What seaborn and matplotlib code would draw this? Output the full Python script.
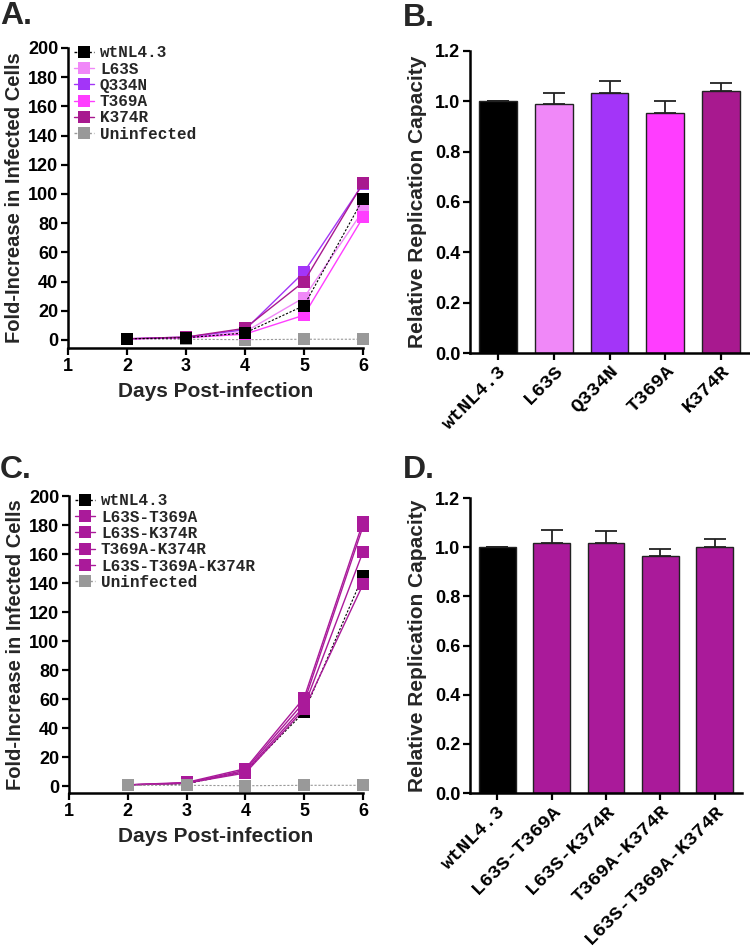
import matplotlib
matplotlib.use("Agg")
import matplotlib.pyplot as plt
import seaborn as sns
import numpy as np
import pandas as pd
from matplotlib.lines import Line2D

sns.set_theme(style="ticks")
plt.rcParams['font.family'] = ['Liberation Sans', 'DejaVu Sans']
plt.rcParams['font.weight'] = 'bold'

# ---------------- data ----------------
days = [2, 3, 4, 5, 6]

a_names = ["wtNL4.3", "L63S", "Q334N", "T369A", "K374R", "Uninfected"]
a_wt = [0.8, 1.5, 4.8, 23.5, 96.5]
a_l63s = [0.8, 1.5, 5.5, 29, 88.5]
a_q334n = [0.8, 2.0, 7.0, 46.5, 107]
a_t369a = [0.8, 1.5, 4.0, 17, 84]
a_k374r = [0.8, 2.0, 8.0, 40, 107.5]
a_uninf = [0.5, 0.5, 0.2, 0.5, 0.5]

c_names = ["wtNL4.3", "L63S-T369A", "L63S-K374R", "T369A-K374R",
           "L63S-T369A-K374R", "Uninfected"]
c_wt = [0.8, 1.5, 10, 51, 145]
c_l63s_t369a = [0.8, 2.5, 12, 61, 182]
c_l63s_k374r = [0.8, 2.0, 11, 58, 179]
c_t369a_k374r = [0.8, 2.0, 10, 55, 161.5]
c_triple = [0.8, 2.0, 9, 53, 139]
c_uninf = [0.5, 0.5, 0.2, 0.5, 0.5]

b_cats = ["wtNL4.3", "L63S", "Q334N", "T369A", "K374R"]
b_vals = [1.0, 0.988, 1.034, 0.954, 1.040]
b_err = [0.0, 0.046, 0.046, 0.046, 0.034]

d_cats = ["wtNL4.3", "L63S-T369A", "L63S-K374R", "T369A-K374R", "L63S-T369A-K374R"]
d_vals = [1.0, 1.015, 1.015, 0.963, 1.0]
d_err = [0.0, 0.054, 0.049, 0.029, 0.034]

# ---------------- styles ----------------
BLACK = "#000000"
LPINK = "#F088F8"
PURPLE = "#A335F8"
MAGENTA = "#FF3DFF"
PLUM = "#A8198F"
GRAY = "#999999"
CPLUM = "#AA1A9A"

a_colors = [BLACK, LPINK, PURPLE, MAGENTA, PLUM, GRAY]
c_colors = [BLACK, CPLUM, CPLUM, CPLUM, CPLUM, GRAY]

W, H = 750, 947
fig = plt.figure(figsize=(W / 100, H / 100), dpi=100)


def px_axes(left, right, top, bottom):
    return fig.add_axes([left / W, 1 - bottom / H, (right - left) / W, (bottom - top) / H])


MONO = ['Liberation Mono', 'DejaVu Sans Mono']


def style_axes(ax):
    for s in ["top", "right"]:
        ax.spines[s].set_visible(False)
    for s in ["left", "bottom"]:
        ax.spines[s].set_linewidth(1.8)
        ax.spines[s].set_color("black")
    ax.tick_params(axis="both", direction="out", length=5, width=1.6,
                   labelsize=13, colors="black", pad=2)
    for lab in ax.get_xticklabels() + ax.get_yticklabels():
        lab.set_fontweight("bold")


def line_panel(ax, names, series, colors, ylo, draw_order):
    handles = []
    for rank, i in enumerate(draw_order):
        name, vals, col = names[i], series[i], colors[i]
        if name in ("wtNL4.3", "Uninfected"):
            ls = (0, (2, 1.5))
            lw = 0.8
        else:
            ls = "-"
            lw = 1.0
        sns.lineplot(x=days, y=vals, ax=ax, color=col, linestyle=ls, linewidth=lw,
                     marker="s", markersize=8, markeredgewidth=0, legend=False,
                     clip_on=False, zorder=3 + rank * 0.1)
    for i in range(len(series)):
        name, col = names[i], colors[i]
        ls = (0, (2, 1.5)) if name in ("wtNL4.3", "Uninfected") else "-"
        handles.append(Line2D([0], [0], color=col, linestyle=ls, linewidth=1.0,
                              marker="s", markersize=8, markeredgewidth=0))
    ax.set_xlim(1, 6)
    ax.set_ylim(ylo, 200)
    ax.set_xticks([1, 2, 3, 4, 5, 6])
    ax.set_yticks(np.arange(0, 201, 20))
    ax.set_xlabel("Days Post-infection", fontsize=15, fontweight="bold", labelpad=5)
    ax.set_ylabel("Fold-Increase in Infected Cells", fontsize=14.5, fontweight="bold",
                  labelpad=3)
    style_axes(ax)
    leg = ax.legend(handles, names, loc="upper left", bbox_to_anchor=(0.0, 1.03),
                    frameon=False, handlelength=1.2, handletextpad=0.4,
                    labelspacing=0.08, borderaxespad=0,
                    prop={"family": MONO, "weight": "bold", "size": 11.5})
    return leg


def bar_panel(ax, cats, vals, errs, palette):
    df = pd.DataFrame({"cat": cats, "val": vals})
    sns.barplot(data=df, x="cat", y="val", hue="cat", palette=palette, ax=ax,
                legend=False, width=0.68, edgecolor="#222222", linewidth=1.0,
                saturation=1)
    xs = np.arange(len(cats))
    ax.errorbar(xs, vals, yerr=[np.zeros(len(errs)), errs], fmt="none",
                ecolor="#222222", elinewidth=1.3, capsize=8, capthick=1.3, zorder=2)
    ax.set_xlim(-0.5, 4.5)
    ax.set_ylim(0, 1.2)
    ax.set_yticks(np.arange(0, 1.21, 0.2))
    ax.set_yticklabels([f"{v:.1f}" for v in np.arange(0, 1.21, 0.2)])
    ax.set_xlabel("")
    ax.set_ylabel("Relative Replication Capacity", fontsize=15, fontweight="bold",
                  labelpad=6)
    style_axes(ax)
    ax.set_xticks(xs)
    ax.set_xticklabels(cats, rotation=45, ha="right", rotation_mode="anchor",
                       fontdict={"family": MONO, "weight": "bold", "size": 14})


# Panel A  (uninfected at the back, wild type in front)
axA = px_axes(68, 363, 48, 348)
line_panel(axA, a_names, [a_wt, a_l63s, a_q334n, a_t369a, a_k374r, a_uninf],
           a_colors, -5.5, [5, 1, 3, 2, 4, 0])

# Panel B
axB = px_axes(470, 749, 51, 353)
bar_panel(axB, b_cats, b_vals, b_err, [BLACK, LPINK, PURPLE, MAGENTA, PLUM])

# Panel C  (wild type at the back, uninfected in front)
axC = px_axes(69, 363, 496, 793)
line_panel(axC, c_names, [c_wt, c_l63s_t369a, c_l63s_k374r, c_t369a_k374r, c_triple, c_uninf],
           c_colors, -4.8, [0, 1, 2, 3, 4, 5])

# Panel D
axD = px_axes(470, 742, 498, 793)
bar_panel(axD, d_cats, d_vals, d_err, [BLACK, CPLUM, CPLUM, CPLUM, CPLUM])

# panel letters
for txt, x, y in [("A.", 0, 1), ("B.", 403, 3), ("C.", 0, 455), ("D.", 403, 455)]:
    fig.text(x / W, 1 - y / H, txt, fontsize=23, fontweight="bold", va="top", ha="left")

fig.savefig("out.png", dpi=100)
